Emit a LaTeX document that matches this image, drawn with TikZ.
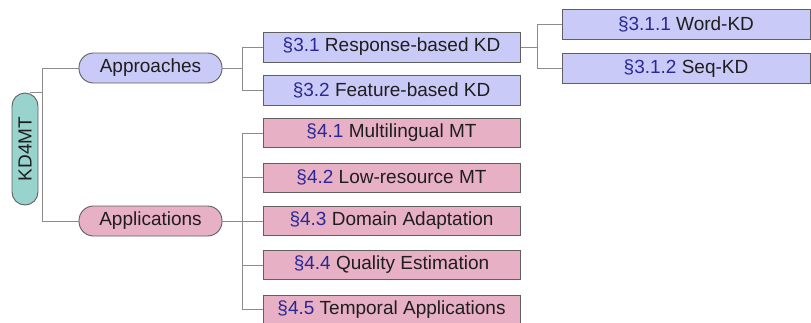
\documentclass[tikz,border=0pt]{standalone}
\usepackage{fontspec}
\setmainfont{Liberation Sans}
\usetikzlibrary{calc,backgrounds}

\definecolor{rootfill}{RGB}{152,211,206}
\definecolor{apprfill}{RGB}{202,202,248}
\definecolor{applfill}{RGB}{232,176,196}
\definecolor{boxline}{RGB}{96,96,96}
\definecolor{edgeline}{RGB}{140,140,140}
\definecolor{secblue}{RGB}{40,40,150}
\definecolor{txt}{RGB}{30,30,30}

\newcommand{\sect}[2]{{\color{secblue}§#1} #2}

\tikzset{
  base/.style={draw=boxline, line width=0.9pt, text=txt, inner sep=0pt,
    font=\fontsize{19}{22}\selectfont},
  pill/.style={base, rounded corners=14.5pt, minimum width=143pt, minimum height=30pt},
  rootbox/.style={base, fill=rootfill, rounded corners=13pt, rotate=90,
    minimum width=112pt, minimum height=26pt},
  leafA/.style={base, fill=apprfill, minimum width=257pt, minimum height=30pt},
  leafB/.style={base, fill=applfill, minimum width=257pt, minimum height=29pt},
  leafC/.style={base, fill=apprfill, minimum width=248pt, minimum height=30pt},
  edge/.style={draw=edgeline, line width=1pt},
}

\begin{document}
\begin{tikzpicture}[x=1pt, y=-1pt]
\useasboundingbox (0,0) rectangle (811,322);

% root and first level
\node[rootbox] (root) at (25,149) {KD4MT};
\node[pill, fill=apprfill] (appr) at (150.5,68) {Approaches};
\node[pill, fill=applfill] (appl) at (150.5,221) {Applications};

% approaches
\node[leafA] (s31) at (391.5,47) {\sect{3.1}{Response-based KD}};
\node[leafA] (s32) at (391.5,90) {\sect{3.2}{Feature-based KD}};
\node[leafC] (s311) at (686,24) {\sect{3.1.1}{Word-KD}};
\node[leafC] (s312) at (686,68.5) {\sect{3.1.2}{Seq-KD}};

% applications
\node[leafB] (s41) at (391.5,133) {\sect{4.1}{Multilingual MT}};
\node[leafB] (s42) at (391.5,177.5) {\sect{4.2}{Low-resource MT}};
\node[leafB] (s43) at (391.5,221) {\sect{4.3}{Domain Adaptation}};
\node[leafB] (s44) at (391.5,265) {\sect{4.4}{Quality Estimation}};
\node[leafB] (s45) at (391.5,309.5) {\sect{4.5}{Temporal Applications}};

% connectors
\begin{scope}[on background layer]
  \coordinate (rs) at ($(root.east)+(5,0)$);
  \coordinate (rf) at ($(root.east)+(17,0)$);
  \draw[edge] (rs) -- (rf);
  \draw[edge] (rf) |- (appr.west);
  \draw[edge] (rf) |- (appl.west);

  \coordinate (af) at ($(appr.east)+(20,0)$);
  \draw[edge] (appr.east) -- (af);
  \draw[edge] (af) |- (s31.west);
  \draw[edge] (af) |- (s32.west);

  \coordinate (rbf) at ($(s31.east)+(17,0)$);
  \draw[edge] (s31.east) -- (rbf);
  \draw[edge] (rbf) |- (s311.west);
  \draw[edge] (rbf) |- (s312.west);

  \coordinate (pf) at ($(appl.east)+(20,0)$);
  \draw[edge] (appl.east) -- (pf);
  \foreach \n in {s41,s42,s43,s44,s45}
    \draw[edge] (pf) |- (\n.west);
\end{scope}
\end{tikzpicture}
\end{document}
